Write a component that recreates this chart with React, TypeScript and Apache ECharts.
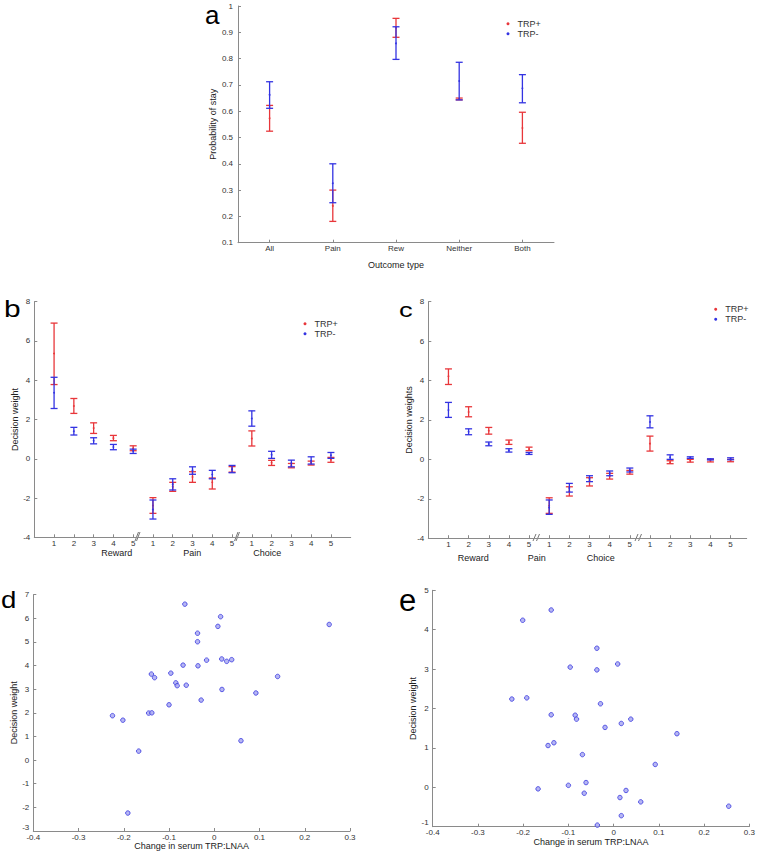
import React, { useEffect, useRef } from 'react';
import * as echarts from 'echarts';

// ---------- Panel a ----------
const outcomeTypes = ['All', 'Pain', 'Rew', 'Neither', 'Both'];
const aPlusMean = [0.573, 0.24, 0.917, 0.647, 0.536];
const aPlusLow = [0.524, 0.181, 0.881, 0.643, 0.478];
const aPlusHigh = [0.622, 0.3, 0.953, 0.65, 0.596];
const aMinusMean = [0.662, 0.326, 0.858, 0.715, 0.687];
const aMinusLow = [0.611, 0.252, 0.797, 0.643, 0.632];
const aMinusHigh = [0.712, 0.4, 0.921, 0.786, 0.739];

// ---------- Panels b, c (positions 1..15: Reward 1-5, Pain 1-5, Choice 1-5) ----------
const lagPositions = [1, 2, 3, 4, 5, 6, 7, 8, 9, 10, 11, 12, 13, 14, 15];
const lagTickLabels = ['1', '2', '3', '4', '5', '1', '2', '3', '4', '5', '1', '2', '3', '4', '5'];

const bPlusMean = [5.36, 2.69, 1.56, 1.05, 0.53, -2.38, -1.43, -0.93, -1.2, -0.53, 1.03, -0.2, -0.33, -0.2, -0.05];
const bPlusLow = [3.78, 2.31, 1.29, 0.92, 0.41, -2.78, -1.66, -1.2, -1.54, -0.68, 0.65, -0.34, -0.46, -0.32, -0.18];
const bPlusHigh = [6.91, 3.07, 1.83, 1.19, 0.66, -1.98, -1.2, -0.66, -0.98, -0.4, 1.42, -0.08, -0.24, -0.12, 0.07];
const bMinusMean = [3.36, 1.4, 0.92, 0.6, 0.4, -2.58, -1.3, -0.6, -0.8, -0.53, 2.05, 0.2, -0.22, -0.1, 0.18];
const bMinusLow = [2.56, 1.21, 0.76, 0.46, 0.27, -3.07, -1.59, -0.79, -1.02, -0.71, 1.66, 0.02, -0.41, -0.27, 0.02];
const bMinusHigh = [4.15, 1.6, 1.07, 0.73, 0.49, -2.1, -1.02, -0.41, -0.59, -0.34, 2.44, 0.38, -0.07, 0.1, 0.32];

const cPlusMean = [4.22, 2.4, 1.45, 0.87, 0.53, -2.35, -1.62, -1.1, -0.85, -0.65, 0.8, -0.15, -0.07, -0.07, -0.06];
const cPlusLow = [3.8, 2.16, 1.28, 0.76, 0.44, -2.74, -1.86, -1.35, -1.0, -0.75, 0.42, -0.22, -0.14, -0.13, -0.12];
const cPlusHigh = [4.59, 2.67, 1.62, 0.98, 0.62, -1.95, -1.39, -0.93, -0.71, -0.56, 1.18, -0.07, 0.0, 0.0, 0.0];
const cMinusMean = [2.5, 1.4, 0.78, 0.45, 0.3, -2.45, -1.45, -0.98, -0.7, -0.55, 1.9, 0.1, 0.09, 0.0, 0.03];
const cMinusLow = [2.13, 1.25, 0.69, 0.37, 0.25, -2.79, -1.66, -1.13, -0.83, -0.64, 1.6, 0.0, 0.05, -0.03, -0.02];
const cMinusHigh = [2.89, 1.55, 0.88, 0.54, 0.35, -2.06, -1.22, -0.83, -0.59, -0.44, 2.21, 0.23, 0.13, 0.03, 0.08];

// ---------- Panels d, e ----------
const dChange = [-0.065, 0.014, 0.254, 0.008, -0.037, -0.037, 0.0165, 0.0385, 0.0275, -0.017, -0.069, -0.036, -0.139, -0.132, -0.096, -0.085, -0.082, -0.062, 0.14, 0.017, 0.092, -0.029, -0.1, -0.225, -0.145, -0.138, -0.202, 0.059, -0.167, -0.191];
const dWeight = [6.6, 6.07, 5.74, 5.66, 5.37, 5.01, 4.28, 4.25, 4.18, 4.23, 4.02, 3.99, 3.64, 3.49, 3.68, 3.27, 3.15, 3.17, 3.54, 2.99, 2.84, 2.54, 2.34, 1.88, 1.99, 2.0, 1.69, 0.82, 0.38, -2.24];
const eChange = [-0.138, -0.201, -0.037, -0.096, -0.037, 0.009, -0.225, -0.192, -0.029, -0.138, -0.085, -0.082, -0.019, 0.017, 0.038, 0.14, -0.145, -0.132, -0.069, 0.092, -0.167, -0.1, -0.061, -0.065, 0.0274, 0.014, 0.06, 0.2545, 0.017, -0.036];
const eWeight = [4.5, 4.24, 3.53, 3.05, 2.98, 3.13, 2.24, 2.27, 2.12, 1.84, 1.83, 1.73, 1.52, 1.62, 1.73, 1.36, 1.06, 1.13, 0.83, 0.58, -0.04, 0.05, 0.12, -0.15, -0.08, -0.26, -0.37, -0.48, -0.72, -0.96];

const RED = '#e8363a';
const BLUE = '#3333e2';
const FONT = '"Liberation Sans", Arial, Helvetica, sans-serif';
const AXIS_COLOR = '#8a8a8a';

function errData(pos: number[], low: number[], high: number[], mean: number[]) {
  return pos.map((p, i) => [p, low[i], high[i], mean[i]]);
}

function errSeries(name: string, color: string, idx: number, data: number[][]) {
  return {
    type: 'custom',
    name,
    xAxisIndex: idx,
    yAxisIndex: idx,
    data,
    encode: { x: 0, y: [1, 2, 3] },
    itemStyle: { color },
    renderItem: (params: any, api: any) => {
      const x = api.value(0);
      const lo = api.coord([x, api.value(1)]);
      const hi = api.coord([x, api.value(2)]);
      const m = api.coord([x, api.value(3)]);
      const hw = 3.5;
      const st = { stroke: color, lineWidth: 1.3 };
      return {
        type: 'group',
        children: [
          { type: 'line', shape: { x1: lo[0], y1: lo[1], x2: hi[0], y2: hi[1] }, style: st },
          { type: 'line', shape: { x1: lo[0] - hw, y1: lo[1], x2: lo[0] + hw, y2: lo[1] }, style: st },
          { type: 'line', shape: { x1: hi[0] - hw, y1: hi[1], x2: hi[0] + hw, y2: hi[1] }, style: st },
          { type: 'circle', shape: { cx: m[0], cy: m[1], r: 0.9 }, style: { fill: color } },
        ],
      };
    },
  };
}

function scatterSeries(idx: number, xs: number[], ys: number[]) {
  return {
    type: 'scatter',
    xAxisIndex: idx,
    yAxisIndex: idx,
    data: xs.map((x, i) => [x, ys[i]]),
    symbol: 'circle',
    symbolSize: 4.5,
    itemStyle: { color: '#a4a4f0', borderColor: '#3a3ae0', borderWidth: 1 },
  };
}

const axisBase = {
  axisLine: { show: true, onZero: false, lineStyle: { color: AXIS_COLOR, width: 1 } },
  axisTick: { show: true, inside: true, length: 3, lineStyle: { color: AXIS_COLOR } },
  splitLine: { show: false },
  nameTextStyle: { fontSize: 9, color: '#222', fontFamily: FONT },
};

function lbl(margin: number) {
  return { fontSize: 8, color: '#333', margin, fontFamily: FONT };
}

function legendAt(left: number, top: number) {
  return {
    data: [
      { name: 'TRP+', icon: 'circle' },
      { name: 'TRP-', icon: 'circle' },
    ],
    left,
    top,
    orient: 'vertical',
    itemWidth: 3,
    itemHeight: 3,
    itemGap: 0,
    padding: 0,
    selectedMode: false,
    textStyle: { fontSize: 9, color: '#333', lineHeight: 10, fontFamily: FONT, padding: [0, 0, 0, 3] },
  };
}

function letter(text: string, x: number, y: number, size: number, sx = 1) {
  return {
    type: 'text',
    x,
    y,
    scaleX: sx,
    style: { text, fontSize: size, lineHeight: Math.round(size * 0.8), fontFamily: FONT, fill: '#000', verticalAlign: 'middle' },
  };
}

function groupLabel(text: string, x: number, y: number) {
  return {
    type: 'text',
    x,
    y,
    style: { text, fontSize: 9, fontFamily: FONT, fill: '#222', align: 'center', verticalAlign: 'middle' },
  };
}

function slash(x: number, yBottom: number, yTop: number, w: number) {
  return {
    type: 'line',
    shape: { x1: x, y1: yBottom, x2: x + w, y2: yTop },
    style: { stroke: '#777', lineWidth: 1 },
  };
}

export default function App() {
  const ref = useRef<HTMLDivElement>(null);
  useEffect(() => {
    if (!ref.current) return;
    const chart = echarts.init(ref.current, null, { renderer: 'svg' });
    const option: any = {
      animation: false,
      backgroundColor: '#fff',
      textStyle: { fontFamily: FONT },
      grid: [
        { left: 238, top: 6, width: 316, height: 236.7 },
        { left: 34.3, top: 301.7, width: 316.4, height: 235.6 },
        { left: 428.3, top: 301.7, width: 318.4, height: 236.5 },
        { left: 33.3, top: 594.7, width: 316.7, height: 236.3 },
        { left: 432.7, top: 590.3, width: 316.6, height: 236.4 },
      ],
      xAxis: [
        {
          ...axisBase,
          gridIndex: 0,
          type: 'category',
          data: outcomeTypes,
          axisTick: { ...axisBase.axisTick, alignWithLabel: true },
          axisLabel: lbl(2),
          name: 'Outcome type',
          nameLocation: 'middle',
          nameGap: 18,
        },
        {
          ...axisBase,
          gridIndex: 1,
          type: 'value',
          min: 0,
          max: 16,
          axisTick: { ...axisBase.axisTick, customValues: lagPositions },
          axisLabel: {
            ...lbl(2),
            customValues: lagPositions,
            formatter: (v: number) => lagTickLabels[lagPositions.indexOf(v)] ?? '',
          },
        },
        {
          ...axisBase,
          gridIndex: 2,
          type: 'value',
          min: 0,
          max: 15.8,
          axisTick: { ...axisBase.axisTick, customValues: lagPositions },
          axisLabel: {
            ...lbl(2),
            customValues: lagPositions,
            formatter: (v: number) => lagTickLabels[lagPositions.indexOf(v)] ?? '',
          },
        },
        {
          ...axisBase,
          gridIndex: 3,
          type: 'value',
          min: -0.4,
          max: 0.3,
          interval: 0.1,
          axisLabel: lbl(2),
          name: 'Change in serum TRP:LNAA',
          nameLocation: 'middle',
          nameGap: 9,
        },
        {
          ...axisBase,
          gridIndex: 4,
          type: 'value',
          min: -0.4,
          max: 0.3,
          interval: 0.1,
          axisLabel: lbl(2),
          name: 'Change in serum TRP:LNAA',
          nameLocation: 'middle',
          nameGap: 7,
        },
      ],
      yAxis: [
        {
          ...axisBase,
          gridIndex: 0,
          type: 'value',
          min: 0.1,
          max: 1,
          interval: 0.1,
          axisLabel: lbl(5),
          name: 'Probability of stay',
          nameLocation: 'middle',
          nameGap: 12,
        },
        {
          ...axisBase,
          gridIndex: 1,
          type: 'value',
          min: -4,
          max: 8,
          interval: 2,
          axisLabel: lbl(4),
          name: 'Decision weight',
          nameLocation: 'middle',
          nameGap: 7,
        },
        {
          ...axisBase,
          gridIndex: 2,
          type: 'value',
          min: -4,
          max: 8,
          interval: 2,
          axisLabel: lbl(4),
          name: 'Decision weights',
          nameLocation: 'middle',
          nameGap: 8,
        },
        {
          ...axisBase,
          gridIndex: 3,
          type: 'value',
          min: -3,
          max: 7,
          interval: 1,
          axisLabel: { ...lbl(4), verticalAlignMinLabel: 'bottom' },
          name: 'Decision weight',
          nameLocation: 'middle',
          nameGap: 8,
        },
        {
          ...axisBase,
          gridIndex: 4,
          type: 'value',
          min: -1,
          max: 5,
          interval: 1,
          axisLabel: { ...lbl(4), verticalAlignMinLabel: 'bottom' },
          name: 'Decision weight',
          nameLocation: 'middle',
          nameGap: 6,
        },
      ],
      legend: [legendAt(506.5, 18.7), legendAt(303.5, 318.7), legendAt(714.2, 304.3)],
      series: [
        errSeries('TRP+', RED, 0, errData(outcomeTypes.map((_, i) => i), aPlusLow, aPlusHigh, aPlusMean)),
        errSeries('TRP-', BLUE, 0, errData(outcomeTypes.map((_, i) => i), aMinusLow, aMinusHigh, aMinusMean)),
        errSeries('TRP+', RED, 1, errData(lagPositions, bPlusLow, bPlusHigh, bPlusMean)),
        errSeries('TRP-', BLUE, 1, errData(lagPositions, bMinusLow, bMinusHigh, bMinusMean)),
        errSeries('TRP+', RED, 2, errData(lagPositions, cPlusLow, cPlusHigh, cPlusMean)),
        errSeries('TRP-', BLUE, 2, errData(lagPositions, cMinusLow, cMinusHigh, cMinusMean)),
        scatterSeries(3, dChange, dWeight),
        scatterSeries(4, eChange, eWeight),
      ],
      graphic: [
        letter('a', 205, 15, 26),
        letter('b', 4, 309, 23, 1.3),
        letter('c', 399, 310, 21, 1.3),
        letter('d', 1, 600, 23, 1.2),
        letter('e', 399, 600, 31),
        groupLabel('Reward', 116.7, 553),
        groupLabel('Pain', 192.3, 553),
        groupLabel('Choice', 267.3, 553),
        groupLabel('Reward', 473.3, 558.3),
        groupLabel('Pain', 536.7, 558.3),
        groupLabel('Choice', 600.7, 558.3),
        slash(135, 541, 532, 3.5),
        slash(136.5, 541, 532, 3.5),
        slash(234.5, 541, 532, 3.5),
        slash(236, 541, 532, 3.5),
        slash(533, 541, 534, 3),
        slash(536.5, 541, 534, 3),
        slash(635, 541, 534, 3),
        slash(638.5, 541, 534, 3),
      ],
    };
    chart.setOption(option);
    return () => chart.dispose();
  }, []);
  return (
    <div
      ref={ref}
      style={{ position: 'absolute', left: 0, top: 0, width: 758, height: 853, background: '#fff' }}
    />
  );
}
